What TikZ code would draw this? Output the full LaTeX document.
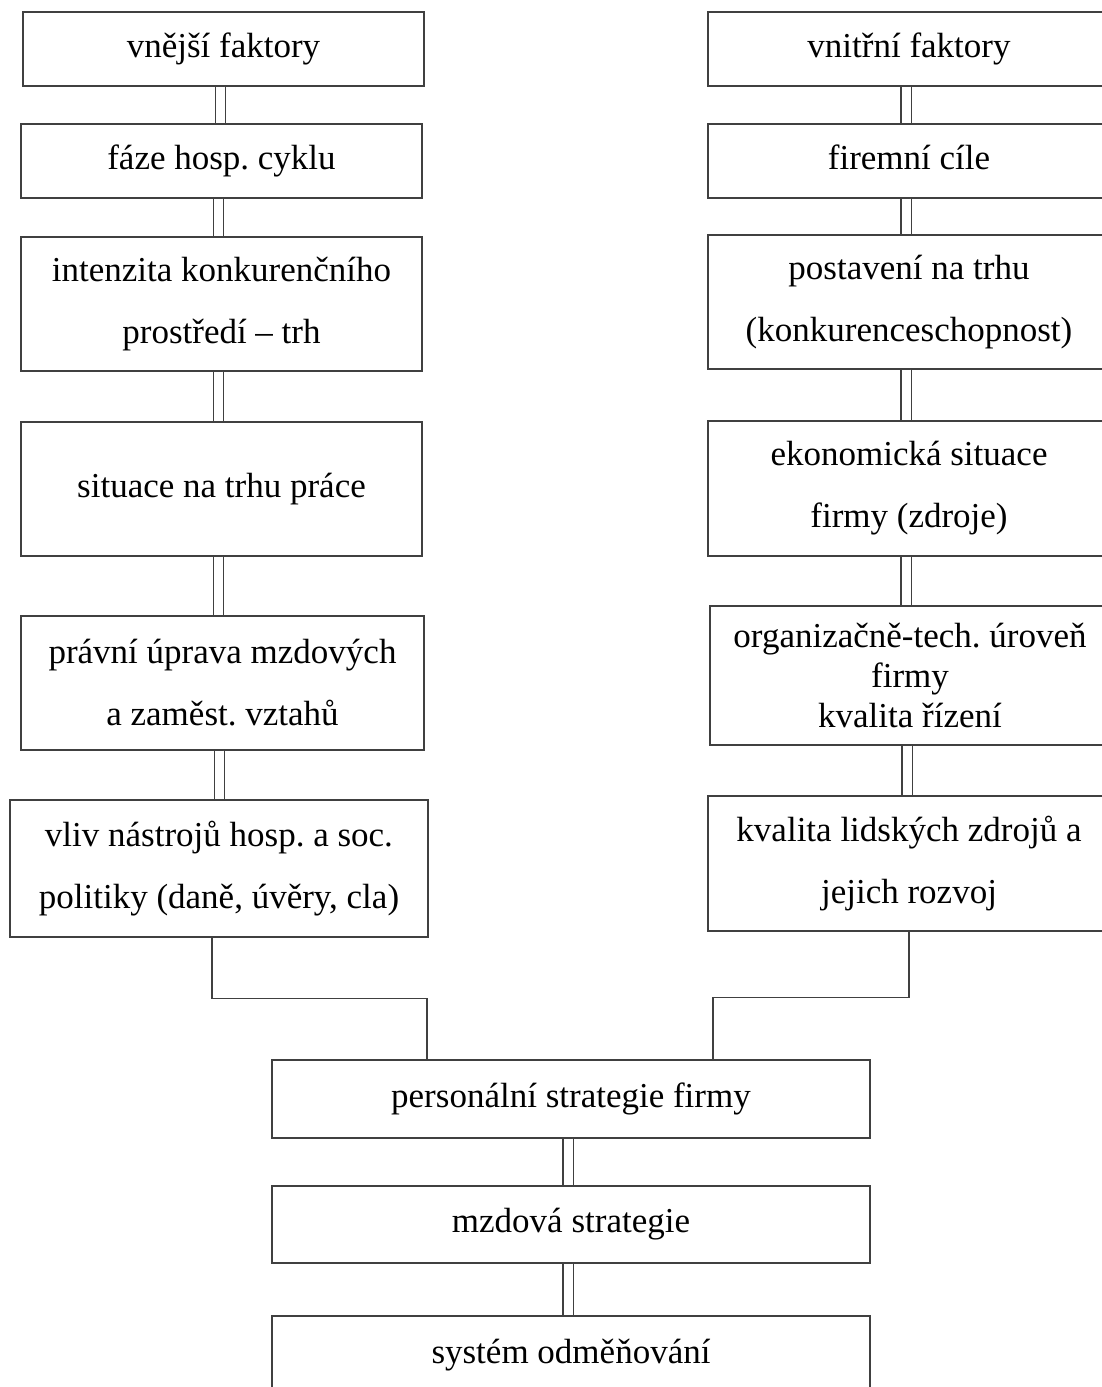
\documentclass[tikz,border=0pt]{standalone}
\usepackage{fontspec}
\setmainfont{Liberation Serif}
\frenchspacing
\tikzset{
  base/.style={draw=black!75, line width=1.4pt, fill=white, align=center,
    minimum width=401pt, font=\fontsize{35}{62}\selectfont},
  box/.style={base, minimum height=74pt, text height=25pt, text depth=9pt},
  tall/.style={base, minimum height=134pt},
  spoj/.style={draw=black!75, line width=1.4pt, double=white, double distance=9pt},
  cara/.style={draw=black!75, line width=1.4pt}
}
\begin{document}
\begin{tikzpicture}[x=1pt,y=-1pt]
\useasboundingbox (0,0) rectangle (1102,1387);
\node[box] (vnejsi) at (223.5,49) {vnější faktory};
\node[box] (faze) at (221.5,161) {fáze hosp. cyklu};
\node[tall] (intenzita) at (221.5,304) {intenzita konkurenčního\\prostředí – trh};
\node[tall] (situace) at (221.5,489) {situace na trhu práce};
\node[tall, minimum width=403pt] (pravni) at (222.5,683) {právní úprava mzdových\\a zaměst. vztahů};
\node[tall, minimum width=418pt, minimum height=137pt] (vliv) at (219,868.5) {vliv nástrojů hosp. a soc.\\politiky (daně, úvěry, cla)};

\node[box, minimum width=402pt] (vnitrni) at (909,49) {vnitřní faktory};
\node[box, minimum width=402pt] (cile) at (909,161) {firemní cíle};
\node[tall, minimum width=402pt] (postaveni) at (909,302) {postavení na trhu\\(konkurenceschopnost)};
\node[tall, minimum width=402pt, minimum height=135pt] (ekonom) at (909,488.5) {ekonomická situace\\firmy (zdroje)};
\node[tall, minimum width=400pt, minimum height=139pt, font=\fontsize{35}{40}\selectfont] (organiz) at (910,675.5) {organizačně-tech. úroveň\\firmy\\kvalita řízení};
\node[tall, minimum width=402pt, minimum height=135pt] (kvalita) at (909,863.5) {kvalita lidských zdrojů a\\jejich rozvoj};

\node[box, minimum width=598pt, minimum height=78pt] (personal) at (571,1099) {personální strategie firmy};
\node[box, minimum width=598pt, minimum height=77pt] (mzdova) at (571,1224.5) {mzdová strategie};
\node[box, minimum width=598pt, minimum height=78pt] (system) at (571,1355) {systém odměňování};

\foreach \a/\b in {vnejsi/faze, faze/intenzita, intenzita/situace, situace/pravni, pravni/vliv,
  vnitrni/cile, cile/postaveni, postaveni/ekonom, ekonom/organiz, organiz/kvalita,
  personal/mzdova, mzdova/system}
  \draw[spoj] ([xshift=-3pt]\a.south) -- ([xshift=-3pt]\a.south |- \b.north);

\draw[cara] ([xshift=-7pt]vliv.south) -- ++(0,61) -| ([xshift=-144pt]personal.north);
\draw[cara] (kvalita.south) -- ++(0,66) -| ([xshift=142pt]personal.north);
\end{tikzpicture}
\end{document}
